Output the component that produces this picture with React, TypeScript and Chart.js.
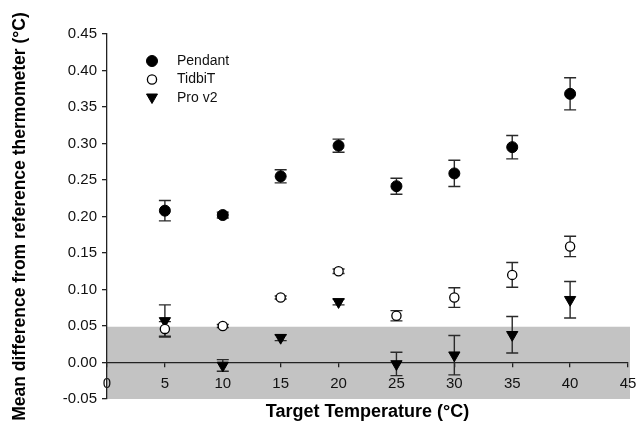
import React, { useEffect, useRef } from "react";
import { Chart, registerables } from "chart.js";

Chart.register(...registerables);

const temps = [5, 10, 15, 20, 25, 30, 35, 40];
const pendant = [0.208, 0.202, 0.255, 0.297, 0.2415, 0.259, 0.295, 0.368];
const pendantErr = [0.014, 0.004, 0.009, 0.009, 0.011, 0.018, 0.016, 0.022];
const tidbit = [0.046, 0.05, 0.089, 0.125, 0.064, 0.089, 0.12, 0.159];
const tidbitErr = [0.01, 0.002, 0.002, 0.003, 0.007, 0.0135, 0.017, 0.014];
const prov2 = [0.057, -0.004, 0.034, 0.083, -0.002, 0.01, 0.038, 0.086];
const prov2Err = [0.022, 0.008, 0.004, 0.004, 0.016, 0.027, 0.025, 0.025];
const seriesNames = ["Pendant", "TidbiT", "Pro v2"];
const yTicks = [-0.05, 0, 0.05, 0.1, 0.15, 0.2, 0.25, 0.3, 0.35, 0.4, 0.45];
const xTicks = [0, 5, 10, 15, 20, 25, 30, 35, 40, 45];
const band = [-0.05, 0.049];

const FONT = "'Liberation Sans', Arial, sans-serif";

export default function App() {
  const ref = useRef<HTMLCanvasElement>(null);

  useEffect(() => {
    const canvas = ref.current!;
    const styles = [
      { style: "circle", bg: "#000", border: "#000", bw: 1, radius: 5.5, rot: 0 },
      { style: "circle", bg: "#fff", border: "#000", bw: 1.3, radius: 4.6, rot: 0 },
      { style: "triangle", bg: "#000", border: "#000", bw: 1, radius: 6.5, rot: 180 },
    ];
    const values = [pendant, tidbit, prov2];
    const errors = [pendantErr, tidbitErr, prov2Err];

    const bandPlugin = {
      id: "band",
      beforeDraw(chart: any) {
        const { ctx, scales } = chart;
        const x = scales.x, y = scales.y;
        const l = x.getPixelForValue(xTicks[0]);
        const r = x.getPixelForValue(xTicks[xTicks.length - 1]);
        const t = y.getPixelForValue(band[1]);
        const b = y.getPixelForValue(band[0]);
        ctx.save();
        ctx.fillStyle = "#c3c3c3";
        ctx.fillRect(l, t, r - l + 2, b - t);
        ctx.restore();
      },
    };

    const errorPlugin = {
      id: "errbars",
      beforeDatasetsDraw(chart: any) {
        const { ctx, scales } = chart;
        const x = scales.x, y = scales.y;
        ctx.save();
        ctx.strokeStyle = "#2a2a2a";
        ctx.lineWidth = 1.4;
        chart.data.datasets.forEach((ds: any) => {
          ds.data.forEach((p: any, i: number) => {
            const e = ds.errorBars[i];
            const px = x.getPixelForValue(p.x);
            const top = y.getPixelForValue(p.y + e);
            const bot = y.getPixelForValue(p.y - e);
            ctx.beginPath();
            ctx.moveTo(px, top);
            ctx.lineTo(px, bot);
            ctx.moveTo(px - 6, top);
            ctx.lineTo(px + 6, top);
            ctx.moveTo(px - 6, bot);
            ctx.lineTo(px + 6, bot);
            ctx.stroke();
          });
        });
        ctx.restore();
      },
    };

    const legendPlugin = {
      id: "customLegend",
      afterDraw(chart: any) {
        const { ctx } = chart;
        const x0 = 152, y0 = 61, dy = 18.5;
        ctx.save();
        ctx.font = `14px ${FONT}`;
        ctx.textBaseline = "middle";
        ctx.fillStyle = "#111";
        chart.data.datasets.forEach((ds: any, i: number) => {
          const cy = y0 + i * dy;
          ctx.save();
          ctx.fillStyle = ds.pointBackgroundColor;
          ctx.strokeStyle = ds.pointBorderColor;
          ctx.lineWidth = ds.pointBorderWidth;
          ctx.beginPath();
          if (ds.pointStyle === "triangle") {
            ctx.moveTo(x0 - 5.5, cy - 4);
            ctx.lineTo(x0 + 5.5, cy - 4);
            ctx.lineTo(x0, cy + 5.5);
            ctx.closePath();
          } else {
            ctx.arc(x0, cy, ds.pointRadius, 0, Math.PI * 2);
          }
          ctx.fill();
          ctx.stroke();
          ctx.restore();
          ctx.fillText(ds.label, 177, cy);
        });
        ctx.restore();
      },
    };

    const chart = new Chart(canvas, {
      type: "scatter",
      data: {
        datasets: seriesNames.map((name, k) => ({
          label: name,
          data: temps.map((t, i) => ({ x: t, y: values[k][i] })),
          errorBars: errors[k],
          pointStyle: styles[k].style,
          pointRadius: styles[k].radius,
          pointHoverRadius: styles[k].radius,
          pointBackgroundColor: styles[k].bg,
          pointBorderColor: styles[k].border,
          pointBorderWidth: styles[k].bw,
          pointRotation: styles[k].rot,
          showLine: false,
        })) as any,
      },
      options: {
        responsive: false,
        animation: false,
        events: [],
        layout: { padding: { left: 0, right: 8, top: 34, bottom: 0 } },
        plugins: { legend: { display: false }, tooltip: { enabled: false } },
        scales: {
          x: {
            type: "linear",
            position: { y: 0 } as any,
            min: xTicks[0],
            max: xTicks[xTicks.length - 1],
            afterBuildTicks: (s: any) => {
              s.ticks = xTicks.map((v) => ({ value: v }));
            },
            afterFit: (s: any) => {
              s.paddingLeft = 0;
              s.paddingRight = 0;
            },
            ticks: {
              font: { family: FONT, size: 15 },
              color: "#111",
              padding: 8,
              maxRotation: 0,
              callback: (v: any) => String(v),
            },
            grid: { drawOnChartArea: false, drawTicks: true, tickLength: 4, color: "#222", lineWidth: 1.3 },
            border: { display: true, color: "#222", width: 1.3 },
          },
          x2: {
            type: "linear",
            position: "bottom",
            min: xTicks[0],
            max: xTicks[xTicks.length - 1],
            ticks: { display: false },
            grid: { display: false },
            border: { display: false },
            afterFit: (s: any) => {
              s.height = 24;
            },
            title: {
              display: true,
              text: "Target Temperature (°C)",
              font: { family: FONT, size: 18, weight: "bold" },
              color: "#000",
              padding: { top: 0, bottom: 0 },
            },
          },
          y: {
            type: "linear",
            position: "left",
            min: yTicks[0],
            max: yTicks[yTicks.length - 1],
            afterBuildTicks: (s: any) => {
              s.ticks = yTicks.map((v) => ({ value: v }));
            },
            afterFit: (s: any) => {
              s.width = 107;
            },
            ticks: {
              font: { family: FONT, size: 15 },
              color: "#111",
              padding: 5,
              callback: (v: any) => Number(v).toFixed(2),
            },
            grid: { drawOnChartArea: false, drawTicks: true, tickLength: 5, color: "#222", lineWidth: 1.3 },
            border: { display: true, color: "#222", width: 1.3 },
            title: {
              display: true,
              text: "Mean difference from reference thermometer (°C)",
              font: { family: FONT, size: 17.5, weight: "bold" },
              color: "#000",
              padding: { top: 10, bottom: 0 },
            },
          },
        },
      } as any,
      plugins: [bandPlugin, errorPlugin, legendPlugin],
    });
    return () => chart.destroy();
  }, []);

  return (
    <canvas
      ref={ref}
      width={636}
      height={423}
      style={{ position: "fixed", left: 0, top: 0, width: 636, height: 423 }}
    />
  );
}
